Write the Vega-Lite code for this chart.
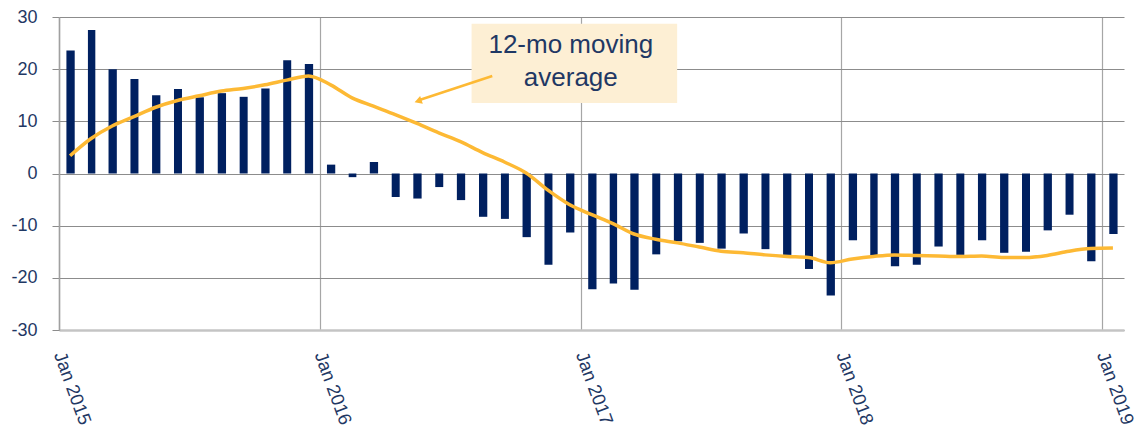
{
  "$schema": "https://vega.github.io/schema/vega-lite/v6.json",
  "width": 1065,
  "height": 313,
  "autosize": "none",
  "padding": {"left": 59, "top": 17, "right": 21, "bottom": 102},
  "background": "white",
  "config": {
    "view": {"stroke": null},
    "font": "Liberation Sans"
  },
  "data": {
    "values": [
      {"month": "2015-01", "value": 23.6, "avg": 3.4},
      {"month": "2015-02", "value": 27.5, "avg": 6.7},
      {"month": "2015-03", "value": 20.0, "avg": 9.1},
      {"month": "2015-04", "value": 18.1, "avg": 10.9},
      {"month": "2015-05", "value": 15.0, "avg": 12.7},
      {"month": "2015-06", "value": 16.2, "avg": 14.0},
      {"month": "2015-07", "value": 14.6, "avg": 14.9},
      {"month": "2015-08", "value": 15.4, "avg": 15.8},
      {"month": "2015-09", "value": 14.7, "avg": 16.3},
      {"month": "2015-10", "value": 16.3, "avg": 17.0},
      {"month": "2015-11", "value": 21.7, "avg": 17.9},
      {"month": "2015-12", "value": 21.0, "avg": 18.7},
      {"month": "2016-01", "value": 1.7, "avg": 17.0},
      {"month": "2016-02", "value": -0.7, "avg": 14.5},
      {"month": "2016-03", "value": 2.2, "avg": 12.9},
      {"month": "2016-04", "value": -4.5, "avg": 11.3},
      {"month": "2016-05", "value": -4.8, "avg": 9.6},
      {"month": "2016-06", "value": -2.6, "avg": 7.8},
      {"month": "2016-07", "value": -5.1, "avg": 6.1},
      {"month": "2016-08", "value": -8.3, "avg": 4.0},
      {"month": "2016-09", "value": -8.7, "avg": 2.2},
      {"month": "2016-10", "value": -12.2, "avg": 0.1},
      {"month": "2016-11", "value": -17.5, "avg": -3.2},
      {"month": "2016-12", "value": -11.3, "avg": -6.0},
      {"month": "2017-01", "value": -22.2, "avg": -7.9},
      {"month": "2017-02", "value": -21.1, "avg": -9.6},
      {"month": "2017-03", "value": -22.3, "avg": -11.6},
      {"month": "2017-04", "value": -15.5, "avg": -12.6},
      {"month": "2017-05", "value": -13.0, "avg": -13.3},
      {"month": "2017-06", "value": -13.3, "avg": -14.1},
      {"month": "2017-07", "value": -14.4, "avg": -14.9},
      {"month": "2017-08", "value": -11.5, "avg": -15.2},
      {"month": "2017-09", "value": -14.5, "avg": -15.6},
      {"month": "2017-10", "value": -15.6, "avg": -15.9},
      {"month": "2017-11", "value": -18.3, "avg": -16.1},
      {"month": "2017-12", "value": -23.4, "avg": -17.1},
      {"month": "2018-01", "value": -12.8, "avg": -16.4},
      {"month": "2018-02", "value": -15.7, "avg": -15.9},
      {"month": "2018-03", "value": -17.8, "avg": -15.6},
      {"month": "2018-04", "value": -17.5, "avg": -15.7},
      {"month": "2018-05", "value": -14.0, "avg": -15.8},
      {"month": "2018-06", "value": -15.6, "avg": -15.9},
      {"month": "2018-07", "value": -12.8, "avg": -15.8},
      {"month": "2018-08", "value": -15.2, "avg": -16.1},
      {"month": "2018-09", "value": -15.0, "avg": -16.1},
      {"month": "2018-10", "value": -10.9, "avg": -15.7},
      {"month": "2018-11", "value": -7.9, "avg": -14.9},
      {"month": "2018-12", "value": -16.8, "avg": -14.4},
      {"month": "2019-01", "value": -11.6, "avg": -14.3}
    ],
    "format": {"parse": {"month": "date:'%Y-%m'"}}
  },
  "layer": [
    {
      "mark": {"type": "bar", "color": "#002060", "width": {"band": 0.42}},
      "encoding": {
        "x": {
          "field": "month",
          "timeUnit": "yearmonth",
          "type": "temporal",
          "title": null,
          "scale": {"domain": [{"year": 2015, "month": 1, "date": 1}, {"year": 2019, "month": 2, "date": 1}]},
          "axis": {
            "values": [
              {"year": 2015, "month": 1, "date": 1},
              {"year": 2016, "month": 1, "date": 1},
              {"year": 2017, "month": 1, "date": 1},
              {"year": 2018, "month": 1, "date": 1},
              {"year": 2019, "month": 1, "date": 1}
            ],
            "format": "%b %Y",
            "labelAngle": 70,
            "labelAlign": "left",
            "labelBaseline": "middle",
            "labelPadding": 22,
            "labelFontSize": 18.5,
            "labelColor": "#1F3864",
            "labelFont": "Liberation Sans",
            "labelOverlap": false,
            "labelFlush": false,
            "ticks": false,
            "grid": true,
            "gridColor": "#a6a6a6",
            "gridWidth": 1.2,
            "domainColor": "#c4c4c4",
            "domainWidth": 2.5
          }
        },
        "y": {
          "field": "value",
          "type": "quantitative",
          "title": null,
          "scale": {"domain": [-30, 30], "nice": false},
          "axis": {
            "values": [-30, -20, -10, 0, 10, 20, 30],
            "labelExpr": "'' + datum.value",
            "labelFontSize": 18,
            "labelColor": "#1F3864",
            "labelFont": "Liberation Sans",
            "labelPadding": 15,
            "tickSize": 7,
            "tickColor": "#8c8c8c",
            "gridColor": "#8c8c8c",
            "gridWidth": 1.2,
            "domainColor": "#a0a0a0",
            "domainWidth": 1.5
          }
        }
      }
    },
    {
      "mark": {"type": "line", "color": "#FDB934", "strokeWidth": 3.5, "interpolate": "monotone"},
      "encoding": {
        "x": {"field": "month", "timeUnit": "yearmonth", "type": "temporal", "bandPosition": 0.5},
        "y": {"field": "avg", "type": "quantitative"}
      }
    },
    {
      "data": {"values": [{}]},
      "mark": {"type": "rect", "color": "#FDEFD4"},
      "encoding": {
        "x": {"datum": {"year": 2016, "month": 8, "date": 1}, "type": "temporal"},
        "x2": {"datum": {"year": 2017, "month": 5, "date": 16}},
        "y": {"datum": 28.7, "type": "quantitative"},
        "y2": {"datum": 13.5}
      }
    },
    {
      "data": {"values": [{}]},
      "mark": {"type": "text", "text": ["12-mo moving", "average"], "font": "Liberation Sans", "fontSize": 26, "color": "#1F3864", "align": "center", "baseline": "middle", "lineHeight": 33},
      "encoding": {
        "x": {"datum": {"year": 2016, "month": 12, "date": 18}, "type": "temporal"},
        "y": {"datum": 24.7, "type": "quantitative"}
      }
    },
    {
      "data": {"values": [{}]},
      "mark": {"type": "rule", "color": "#FDB934", "strokeWidth": 2.5},
      "encoding": {
        "x": {"datum": {"year": 2016, "month": 8, "date": 30}, "type": "temporal"},
        "x2": {"datum": {"year": 2016, "month": 5, "date": 20}},
        "y": {"datum": 18.7, "type": "quantitative"},
        "y2": {"datum": 14.1}
      }
    },
    {
      "data": {"values": [{}]},
      "mark": {"type": "point", "shape": "triangle-up", "filled": true, "color": "#FDB934", "opacity": 1, "size": 70, "angle": 251.6},
      "encoding": {
        "x": {"datum": {"year": 2016, "month": 5, "date": 18}, "type": "temporal"},
        "y": {"datum": 13.9, "type": "quantitative"}
      }
    }
  ]
}
